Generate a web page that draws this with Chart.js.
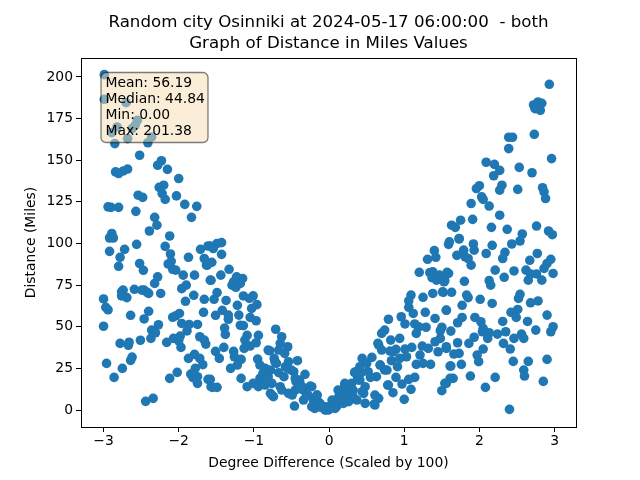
<!DOCTYPE html>
<html>
<head>
<meta charset="utf-8">
<title>Osinniki</title>
<script src="https://cdn.jsdelivr.net/npm/chart.js@4"></script>
<style>
  html, body { margin: 0; padding: 0; background: #fff; }
  #chart { display: block; }
</style>
</head>
<body>
<canvas id="chart" width="640" height="480"></canvas>
<script>
const titleLines = ['Random city Osinniki at 2024-05-17 06:00:00  - both', 'Graph of Distance in Miles Values'];
const xLabel = 'Degree Difference (Scaled by 100)';
const yLabel = 'Distance (Miles)';
const xTicks = [-3, -2, -1, 0, 1, 2, 3];
const yTicks = [0, 25, 50, 75, 100, 125, 150, 175, 200];
const statLines = ['Mean: 56.19', 'Median: 44.84', 'Min: 0.00', 'Max: 201.38'];

const degreeDiff = [
  -2.99,-2.99,-2.70,-2.55,-2.58,-2.82,-2.89,-2.62,-2.68,-2.36,
  -2.41,-2.85,-2.52,-2.23,-2.28,-2.15,-2.00,-2.68,-2.74,-2.84,
  -2.80,-2.20,-2.26,-2.22,-2.18,-2.54,-2.48,-2.03,-1.92,-1.76,
  -1.83,-2.94,-2.90,-2.80,-2.57,-2.32,-2.29,-2.39,-2.12,-2.89,
  -2.91,-2.92,-2.87,-2.18,-2.56,-2.72,-2.92,-2.78,-2.80,-2.52,
  -2.47,-2.11,-2.10,-2.14,-2.08,-2.04,-1.87,-1.71,-1.61,-1.66,
  -1.63,-1.94,-1.79,-1.58,-2.28,-2.32,-2.59,-2.74,-2.76,-2.76,
  -2.69,-2.49,-2.46,-2.42,-2.40,-2.24,-3.00,-2.97,-2.94,-2.64,
  -2.40,-2.46,-3.00,-2.27,-2.36,-2.31,-2.37,-2.51,-2.66,-2.67,
  -2.78,-2.62,-2.64,-2.96,-2.75,-2.86,-2.34,-2.44,-1.91,-1.80,
  -1.66,-1.96,-1.90,-1.67,-1.99,-2.04,-2.08,-1.96,-1.86,-1.75,
  -1.89,-1.98,-2.07,-2.16,-2.00,-1.97,-1.72,-1.66,-1.64,-1.79,
  -1.87,-1.72,-1.68,-1.78,-2.02,-2.12,-1.84,-1.81,-1.75,-1.75,
  -1.61,-1.57,-1.43,-1.49,-1.58,-1.54,-1.43,-1.56,-1.62,-1.33,
  -1.44,-1.57,-1.15,-1.23,-1.27,-1.29,-1.24,-1.18,-1.49,-1.53,
  -1.37,-1.14,-1.01,-1.06,-1.22,-0.96,-1.03,-1.51,-1.42,-1.34,
  -1.34,-1.20,-1.05,-0.97,-1.18,-1.14,-1.39,-1.38,-1.09,-0.94,
  -1.12,-0.97,-1.05,-1.13,-1.51,-1.40,-1.46,-1.27,-1.26,-1.17,
  -1.22,-1.31,-1.58,-1.55,-1.49,-1.17,-1.09,-0.71,-0.63,-0.65,
  -0.55,-0.79,-0.67,-0.59,-0.95,-0.73,-0.42,-0.54,-0.92,-0.85,
  -0.78,-0.67,-0.47,-0.32,-0.83,-0.92,-1.01,-0.94,-0.85,-0.76,
  -0.65,-0.78,-0.74,-0.54,-0.45,-0.39,-0.25,-0.34,-0.46,-0.34,
  -0.16,-0.23,-0.19,-0.12,-0.05,0.00,-0.21,-0.28,-0.60,-0.50,
  -0.70,-0.40,-0.30,-0.15,-0.08,-0.36,-0.44,-0.58,-0.88,-0.10,
  -0.81,-0.88,-0.76,-0.63,-0.49,-0.39,-0.23,-0.16,-0.45,-0.72,
  -0.55,-0.81,-0.03,-0.01,
  1.40,1.31,1.42,1.59,1.20,1.34,1.38,1.37,1.43,1.47,
  1.54,1.59,1.09,1.06,1.25,1.38,1.51,1.06,1.12,1.28,
  1.56,1.41,0.79,0.96,1.01,1.14,1.19,1.29,1.16,1.50,
  1.48,0.74,0.70,0.82,0.94,0.66,0.70,0.81,0.89,1.01,
  1.10,1.24,1.32,1.41,1.45,1.56,1.48,1.21,1.03,0.94,
  0.83,0.91,1.16,1.25,1.35,1.61,0.57,0.44,0.50,0.41,
  0.34,0.43,0.68,0.74,0.63,0.55,0.41,0.89,1.14,1.06,
  0.97,0.79,1.09,0.85,1.00,0.21,0.19,0.48,0.32,0.46,
  0.66,0.48,0.60,0.37,0.26,0.15,0.08,0.01,-0.05,0.10,
  0.19,1.50,1.56,1.61,0.30,0.24,0.13,0.05,0.38,0.52,
  0.65,0.85,0.35,0.68,0.77,0.39,0.78,0.61,0.61,0.21,
  0.12,0.31,0.44,0.04,0.19,0.32,0.08,
  1.60,1.92,1.73,2.57,2.54,2.43,2.17,2.92,2.97,1.79,
  1.93,1.70,1.81,1.85,1.89,2.09,2.34,2.31,2.77,2.67,
  2.95,2.90,2.86,2.21,2.46,2.62,2.68,2.76,2.98,2.83,
  2.65,2.33,2.13,2.15,1.57,1.53,1.80,1.52,1.63,1.83,
  1.85,2.01,2.17,2.54,2.52,2.68,2.78,1.77,1.56,2.51,
  2.42,2.49,2.90,2.64,2.31,2.98,2.95,2.75,1.77,1.71,
  1.62,1.94,2.02,2.05,2.04,2.13,2.11,2.24,2.35,2.32,
  2.46,2.56,2.59,1.93,1.86,1.71,1.56,1.66,1.73,2.05,
  1.97,1.99,2.41,2.45,2.65,2.90,2.59,2.60,2.85,1.62,
  1.76,1.65,1.88,2.21,2.08,1.54,2.40,2.93,2.78,2.72,
  2.83,2.76,2.81,2.74,2.39,2.44,2.73,2.39,2.96,2.09,
  2.20,2.53,2.27,2.70,2.19,2.00,1.96,2.30,2.27,2.51,
  2.84,2.86,2.88,2.03,2.05,1.89,2.13,2.27,1.75,1.91,
  1.63,1.68,2.16,2.37,2.76,1.73
];

const distanceMiles = [
  201.4,186.6,184.6,174,171,170,166.6,169,163,164,
  160.5,160,153,149.7,147,144.5,139,144.7,143.5,143,
  142,135,133.7,130,126.5,129,127.7,128.6,123.5,122.3,
  115.7,122,121.7,121.7,119.3,115.7,111,107.5,104.5,106,
  104,103.3,103.3,98.3,99.5,96.5,95.3,91.7,86.3,88,
  83.9,93.7,89.3,87.7,84.5,84,91.7,96.5,98.5,91,
  87,81,81,78,80,76,72.5,72,71,68.5,
  67.5,72,72,70.7,70,70,66.7,61.7,60.2,56.9,
  59.3,54.7,50.3,51.2,48,46.4,43,41.9,40.7,38.9,
  40,31.8,29.8,28,25,19.6,7,5.2,65.3,68.9,
  66.5,72.9,75,58.7,58,56.6,55.7,52,51.4,51.4,
  47.5,44.4,43,40.6,41.6,37.6,44,42,39.6,33.4,
  31,31,27.2,25,22.6,19,21.6,19.4,20,16,
  18.4,14,100.5,100,98.5,97,93.5,88.7,87,84.5,
  81,77.9,79,80,77,75,73.7,76,70.5,66.5,
  65.8,68.5,68.6,67,62.9,63.3,61,56.9,59.9,57,
  54.5,57,55.6,53.6,50.9,50.7,49.2,45.4,44.8,44.8,
  42,40.4,38.4,37,35.2,37.6,31,35.2,32,30.4,
  27,25,18.4,13.6,13.6,19,14,48.5,44,40,
  38,35.6,36,34,30.6,31,29.6,29,27,25,
  24,22.4,23,21.4,20,19,16,14,15,16,
  14,10,8,10,12,17,14.4,12,2.4,6,
  9,2,1,4,0,0.5,6,9,20,24,
  28,18,9,5,2,14,17,26,22,1.5,
  36,17,9,12,9,13,14,9,19,29,
  25,20,2,0,
  95.7,90.5,91.7,99.5,82.7,82.5,83,79.5,78,81,
  77.7,82,69,65.6,67.7,70,71,61.7,58,58.7,
  60,55,54.5,56,51.7,51.7,50,49.7,46,49.7,
  47.6,48,46,42,43,39,36,35.4,36.4,36.6,
  37.6,38.4,37,41,35,38,43,33,32,31,
  29.6,26,27.4,28,27.4,26.4,31.6,31,28,26,
  22.4,22.4,27,24,20,19.6,18,19.6,19.6,18.4,
  15.6,15,12.4,10.4,6.4,15,12,14,12,10,
  7,4,3.6,6,5,6,5,1,0.2,2,
  4,11.6,16,19,16,9,8,3,19,23,
  40,35,23,27,24,18,15,3,9,16,
  12,12,11,6,7,8,1,
  101,99.7,102.7,105.7,101.5,99.7,98.9,107.5,105.3,96,
  96,92.9,92,91,87,94,94.7,91,94,89.9,
  90.5,88,85,84,83.5,84,81.7,81.7,82,78,
  78,79.7,77.7,75,82.7,77,77.3,70.7,70.7,69,
  67.5,66.5,64,69.5,67,64.4,65.5,62.9,59.9,60.4,
  58.7,55.6,57,53.2,53.2,50,47,48,55.6,52.4,
  47.4,55.6,53,49,47,46.4,43,45.6,47,40,
  43,45.6,43,43.7,40,40.4,37,33.6,34,36.6,
  33,29,36.6,29.2,29.2,30.4,24,20.4,17.2,26.4,
  27.4,19,20.4,19.6,13.6,16,0.4,195.6,185,183.2,
  184.2,182.2,180,181,163.8,163.8,165.6,157,151,148.8,
  147.5,145.7,143.9,142.5,140.7,134.7,133,135,132,132.5,
  133.5,131,127,128,126.5,124,122.5,117,114,114.5,
  111,109.7,109.7,108.5,110.5,103
];

const points = degreeDiff.map((x, i) => ({ x: x, y: distanceMiles[i] }));

const frameAndStats = {
  id: 'frameAndStats',
  afterDraw(chart) {
    const ctx = chart.ctx;
    const a = chart.chartArea;
    ctx.save();
    ctx.strokeStyle = '#000';
    ctx.lineWidth = 1;
    ctx.strokeRect(Math.round(a.left) + 0.5, Math.round(a.top) + 0.5, Math.round(a.right - a.left), Math.round(a.bottom - a.top));

    // stats box
    ctx.beginPath();
    ctx.roundRect(101, 72.5, 107, 70, 5);
    ctx.fillStyle = 'rgba(245, 222, 179, 0.5)';
    ctx.fill();
    ctx.strokeStyle = 'rgba(0, 0, 0, 0.5)';
    ctx.lineWidth = 1.3;
    ctx.stroke();

    ctx.fillStyle = '#000';
    ctx.font = '13.9px "DejaVu Sans"';
    ctx.textBaseline = 'middle';
    ctx.textAlign = 'left';
    statLines.forEach((line, i) => ctx.fillText(line, 105.5, 83 + i * 16.2));
    ctx.restore();
  }
};

Chart.defaults.font.family = '"DejaVu Sans"';
Chart.defaults.color = '#000';

new Chart(document.getElementById('chart'), {
  type: 'scatter',
  data: {
    datasets: [{
      data: points,
      backgroundColor: '#1f77b4',
      borderWidth: 0,
      pointRadius: 4.8,
      pointHoverRadius: 4.8
    }]
  },
  options: {
    responsive: false,
    devicePixelRatio: 1,
    animation: false,
    layout: { padding: { left: 0, right: 64, top: 0, bottom: 0 } },
    plugins: {
      legend: { display: false },
      tooltip: { enabled: false },
      title: {
        display: true,
        fullSize: false,
        text: titleLines,
        color: '#000',
        font: { size: 16.67, weight: 'normal', lineHeight: 1.26 },
        padding: { top: 12.5, bottom: 3.5 }
      }
    },
    scales: {
      x: {
        type: 'linear',
        min: -3.3,
        max: 3.285,
        afterBuildTicks: axis => { axis.ticks = xTicks.map(v => ({ value: v })); },
        afterFit: axis => { axis.height = 53; },
        grid: { drawOnChartArea: false, drawTicks: true, tickLength: 5, tickColor: '#000' },
        border: { color: '#000' },
        ticks: {
          font: { size: 13.9 },
          padding: 1,
          maxRotation: 0,
          autoSkip: false,
          callback: v => String(v).replace('-', '\u2212')
        },
        title: { display: true, text: xLabel, font: { size: 13.9 }, padding: { top: 8, bottom: 8 } }
      },
      y: {
        min: -10.2,
        max: 211.4,
        afterBuildTicks: axis => { axis.ticks = yTicks.map(v => ({ value: v })); },
        afterFit: axis => { axis.width = 81; },
        grid: { drawOnChartArea: false, drawTicks: true, tickLength: 5, tickColor: '#000' },
        border: { color: '#000' },
        ticks: { font: { size: 13.9 }, padding: 3, autoSkip: false },
        title: { display: true, text: yLabel, font: { size: 13.9 }, padding: { top: 23, bottom: 4 } }
      }
    }
  },
  plugins: [frameAndStats]
});
</script>
</body>
</html>
